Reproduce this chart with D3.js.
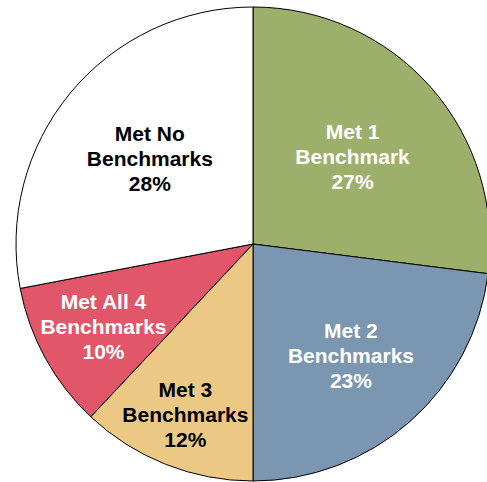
<!DOCTYPE html>
<html>
<head>
<meta charset="utf-8">
<script src="https://cdn.jsdelivr.net/npm/d3@7"></script>
<style>
  html, body { margin: 0; padding: 0; background: #fff; }
  svg { display: block; }
</style>
</head>
<body>
<div id="chart"></div>
<script>
// Benchmark pie: share of students by number of benchmarks met.
const categories = ["Met 1 Benchmark", "Met 2 Benchmarks", "Met 3 Benchmarks", "Met All 4 Benchmarks", "Met No Benchmarks"];
const labelLines = [["Met 1", "Benchmark"], ["Met 2", "Benchmarks"], ["Met 3", "Benchmarks"], ["Met All 4", "Benchmarks"], ["Met No", "Benchmarks"]];
const shares = [27, 23, 12, 10, 28];

const colors = ["#9db06b", "#7a96b1", "#ebc985", "#e15668", "#ffffff"];
const textColors = ["#fff", "#fff", "#000", "#fff", "#000"];
// excel "best fit" puts labels at varying distance from the centre
const labelRadius = [0.56, 0.625, 0.775, 0.72, 0.565];

const w = 487, h = 482;
const cx = 253, cy = 244, r = 237;

const svg = d3.select("#chart").append("svg").attr("width", w).attr("height", h);
const g = svg.append("g").attr("transform", `translate(${cx},${cy})`);

const pie = d3.pie().sort(null).value((d) => d)(shares);
const arc = d3.arc().innerRadius(0).outerRadius(r);

g.selectAll("path")
  .data(pie)
  .join("path")
  .attr("d", arc)
  .attr("fill", (d, i) => colors[i])
  .attr("stroke", "#000")
  .attr("stroke-width", 1)
  .attr("stroke-linejoin", "round");

const lineH = 25;
const labels = g.selectAll("text")
  .data(pie)
  .join("text")
  .attr("transform", (d, i) => {
    const lr = r * labelRadius[i];
    const c = d3.arc().innerRadius(lr).outerRadius(lr).centroid(d);
    return `translate(${c[0]},${c[1]})`;
  })
  .attr("text-anchor", "middle")
  .attr("fill", (d, i) => textColors[i])
  .style("font-family", "'Liberation Sans', Arial, Helvetica, sans-serif")
  .style("font-weight", "bold")
  .style("font-size", "21px");

labels.each(function (d, i) {
  const lines = [...labelLines[i], `${shares[i]}%`];
  const t = d3.select(this);
  lines.forEach((s, k) => {
    t.append("tspan")
      .attr("x", 0)
      .attr("y", (k - (lines.length - 1) / 2) * lineH + 7.5)
      .text(s);
  });
});
</script>
</body>
</html>
